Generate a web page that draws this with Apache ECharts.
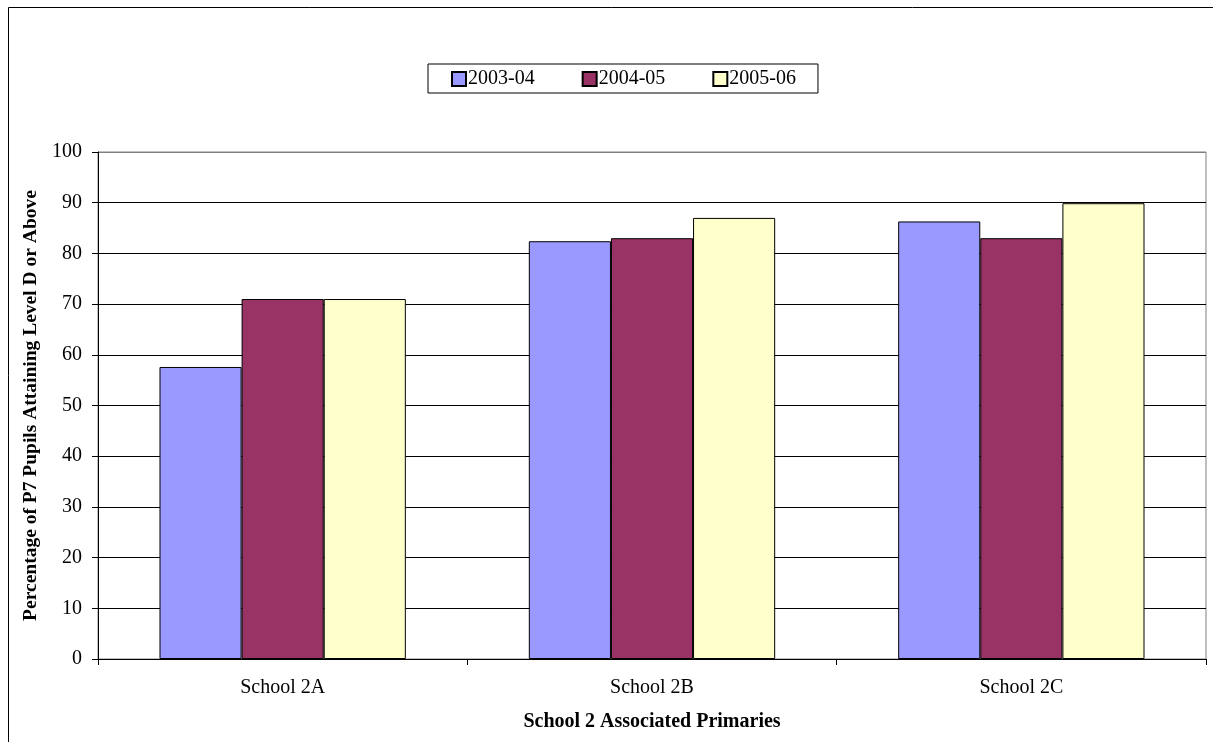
<!DOCTYPE html>
<html><head><meta charset="utf-8">
<script src="https://cdn.jsdelivr.net/npm/echarts@6/dist/echarts.min.js"></script>
<style>html,body{margin:0;padding:0;background:#fff}#c{width:1213px;height:742px}</style>
</head><body><div id="c"></div>
<script>
const categories = ['School 2A', 'School 2B', 'School 2C'];
const seriesNames = ['2003-04', '2004-05', '2005-06'];
const values2003 = [57.6, 82.4, 86.3];
const values2004 = [71.0, 83.0, 83.0];
const values2005 = [71.0, 87.0, 89.9];
const colors = ['#9999FF', '#993366', '#FFFFCC'];
const font = '"Liberation Serif", "Times New Roman", serif';

const chart = echarts.init(document.getElementById('c'), null, {renderer: 'canvas'});
const data = [values2003, values2004, values2005];
const gridColors = ['#000','#000','#000','#000','#000','#000','#000','#000','#000','#000','#808080'];
chart.setOption({
  animation: false,
  textStyle: {fontFamily: font},
  graphic: [{
    type: 'rect', shape: {x: 8.5, y: 7.5, width: 1300, height: 800},
    style: {fill: 'none', stroke: '#000', lineWidth: 1}, silent: true
  }],
  legend: {
    data: seriesNames,
    left: 428, top: 64,
    padding: [5, 22, 4, 23],
    itemGap: 47,
    itemWidth: 14, itemHeight: 14,
    borderColor: '#000', borderWidth: 1,
    icon: 'rect',
    textStyle: {fontFamily: font, fontSize: 20, color: '#000', padding: [0, 0, 0, -3]}
  },
  grid: {
    left: 98, right: 7, top: 152, bottom: 83,
    show: true, borderColor: '#808080', borderWidth: 1, backgroundColor: 'transparent'
  },
  xAxis: {
    type: 'category', data: categories,
    name: 'School 2 Associated Primaries', nameLocation: 'middle', nameGap: 53,
    nameTextStyle: {fontFamily: font, fontSize: 20, fontWeight: 'bold', color: '#000'},
    axisLine: {lineStyle: {color: '#000', width: 1}},
    axisTick: {show: true, length: 6, lineStyle: {color: '#000'}},
    axisLabel: {fontFamily: font, fontSize: 20, color: '#000', margin: 19}
  },
  yAxis: {
    type: 'value', min: 0, max: 100, interval: 10,
    name: 'Percentage of P7 Pupils Attaining Level D or Above', nameLocation: 'middle', nameGap: 53,
    nameTextStyle: {fontFamily: font, fontSize: 19.5, fontWeight: 'bold', color: '#000'},
    axisLine: {show: true, lineStyle: {color: '#000', width: 1}},
    axisTick: {show: true, length: 6, lineStyle: {color: '#000'}},
    axisLabel: {fontFamily: font, fontSize: 20, color: '#000', margin: 16},
    splitLine: {show: true, lineStyle: {color: gridColors, width: 1}}
  },
  series: seriesNames.map((n, i) => ({
    name: n, type: 'bar', data: data[i],
    barGap: '0%', barCategoryGap: '33.3%',
    itemStyle: {color: colors[i], borderColor: '#000', borderWidth: 1}
  }))
});
</script></body></html>
